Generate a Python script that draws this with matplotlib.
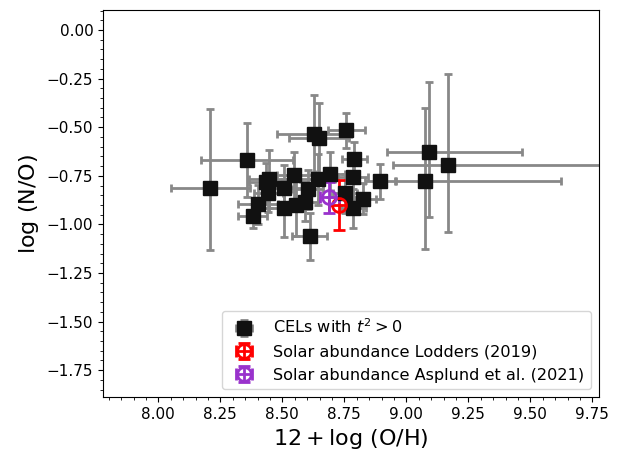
import numpy as np
import matplotlib
matplotlib.use('Agg')
import matplotlib.pyplot as plt
from matplotlib.ticker import AutoMinorLocator

# CELs with t^2 > 0 : 12+log(O/H), log(N/O) and asymmetric errors
oh = [8.210, 8.359, 8.629, 8.649, 8.758, 8.790, 8.894, 8.692, 8.548, 8.446,
      8.436, 8.444, 8.508, 8.603, 8.642, 8.403, 8.380, 8.508, 8.555, 8.592,
      8.610, 8.786, 8.827, 8.786, 8.753, 9.093, 9.077, 9.169]
no = [-0.814, -0.670, -0.535, -0.557, -0.516, -0.665, -0.777, -0.743, -0.748, -0.765,
      -0.784, -0.838, -0.812, -0.820, -0.769, -0.896, -0.957, -0.916, -0.900, -0.883,
      -1.061, -0.758, -0.869, -0.917, -0.840, -0.629, -0.778, -0.696]
oh_lo = [0.16, 0.185, 0.15, 0.12, 0.075, 0.05, 0.06, 0.06, 0.07, 0.08,
         0.07, 0.06, 0.08, 0.06, 0.07, 0.08, 0.06, 0.06, 0.06, 0.05,
         0.07, 0.06, 0.05, 0.05, 0.05, 0.17, 0.117, 0.222]
oh_hi = [0.16, 0.185, 0.15, 0.12, 0.075, 0.05, 0.06, 0.06, 0.07, 0.08,
         0.07, 0.06, 0.08, 0.06, 0.07, 0.08, 0.06, 0.06, 0.06, 0.05,
         0.07, 0.06, 0.05, 0.05, 0.05, 0.375, 0.548, 0.65]
no_lo = [0.32, 0.19, 0.20, 0.18, 0.09, 0.09, 0.09, 0.115, 0.12, 0.15,
         0.10, 0.10, 0.12, 0.10, 0.13, 0.10, 0.064, 0.15, 0.16, 0.10,
         0.12, 0.10, 0.08, 0.10, 0.10, 0.335, 0.348, 0.345]
no_hi = [0.41, 0.19, 0.20, 0.18, 0.09, 0.09, 0.09, 0.115, 0.12, 0.15,
         0.10, 0.10, 0.12, 0.10, 0.13, 0.10, 0.064, 0.15, 0.16, 0.10,
         0.12, 0.10, 0.08, 0.10, 0.10, 0.36, 0.376, 0.468]

# solar values
lod_oh, lod_no, lod_oh_err, lod_no_err = 8.73, -0.90, 0.04, 0.13
asp_oh, asp_no, asp_oh_err, asp_no_err = 8.69, -0.86, 0.04, 0.08

fig = plt.figure(figsize=(6.19, 4.53), dpi=100)
ax = fig.add_axes([0.1664, 0.1236, 0.8013, 0.8544])

ax.errorbar(oh, no, xerr=[oh_lo, oh_hi], yerr=[no_lo, no_hi], fmt='s',
            color='#111111', ecolor='#888888', elinewidth=2, capsize=3, capthick=2,
            markersize=9.5, label=r'CELs with $t^2>0$')
ax.errorbar(lod_oh, lod_no, xerr=lod_oh_err, yerr=lod_no_err, fmt='o',
            color='red', mfc='none', mec='red', mew=2, markersize=10,
            elinewidth=2, capsize=4, capthick=2,
            label='Solar abundance Lodders (2019)')
ax.errorbar(asp_oh, asp_no, xerr=asp_oh_err, yerr=asp_no_err, fmt='o',
            color='darkorchid', mfc='none', mec='darkorchid', mew=2, markersize=10,
            elinewidth=2, capsize=4, capthick=2,
            label='Solar abundance Asplund et al. (2021)')

ax.set_xlim(7.777, 9.777)
ax.set_ylim(-1.888, 0.103)
ax.set_xticks(np.arange(8.0, 9.76, 0.25))
ax.set_yticks(np.arange(-1.75, 0.01, 0.25))
ax.xaxis.set_minor_locator(AutoMinorLocator(5))
ax.yaxis.set_minor_locator(AutoMinorLocator(5))
ax.tick_params(labelsize=11)

ax.set_xlabel(r'$12+\log\,({\rm O/H})$', fontsize=16)
ax.set_ylabel(r'$\log\,({\rm N/O})$', fontsize=16)
ax.legend(loc='lower right', fontsize=11.6)

plt.savefig('out.png', dpi=100)
